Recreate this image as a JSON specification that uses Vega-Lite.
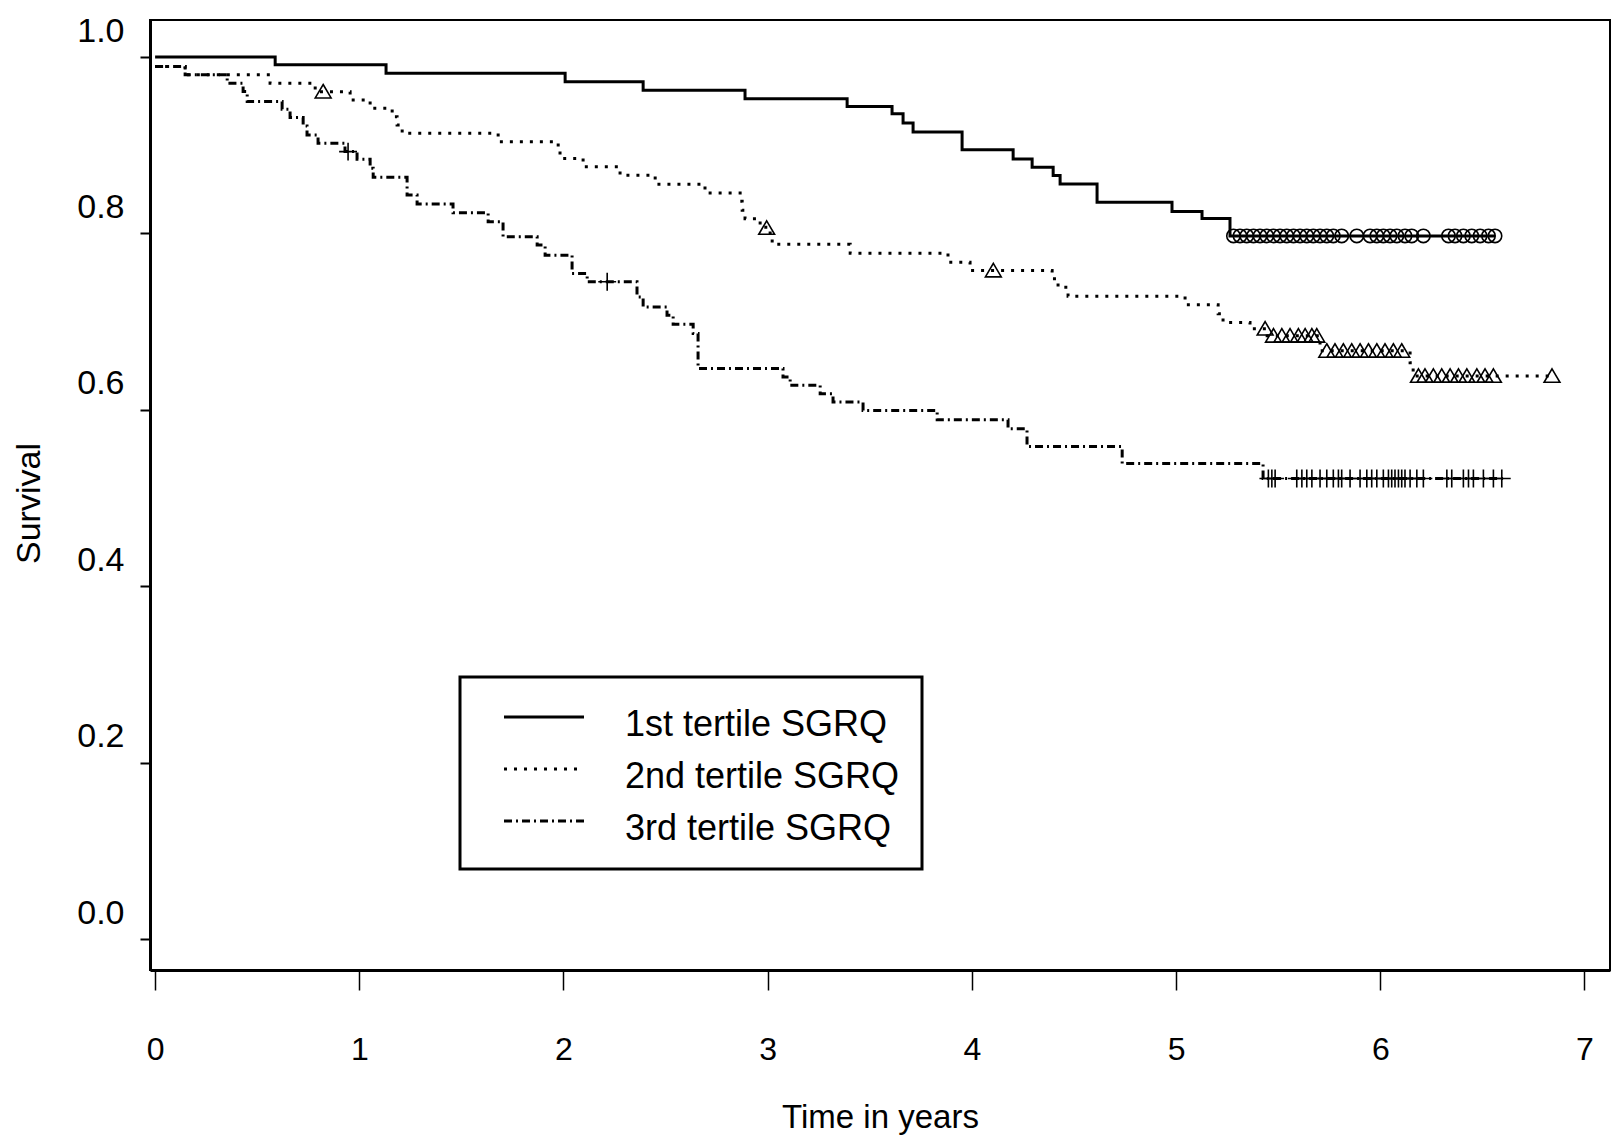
{
  "$schema": "https://vega.github.io/schema/vega-lite/v6.json",
  "width": 1460,
  "height": 950,
  "autosize": {"type": "none"},
  "padding": {"left": 150, "top": 20, "right": 8, "bottom": 170},
  "background": "white",
  "config": {
    "view": {"stroke": "black", "strokeWidth": 2},
    "font": "Liberation Sans"
  },
  "datasets": {
    "curves": [
      {"series": "1st tertile  SGRQ", "time": 0, "survival": 1.0},
      {"series": "1st tertile  SGRQ", "time": 0.588, "survival": 0.9912},
      {"series": "1st tertile  SGRQ", "time": 1.131, "survival": 0.9817},
      {"series": "1st tertile  SGRQ", "time": 2.008, "survival": 0.9719},
      {"series": "1st tertile  SGRQ", "time": 2.39, "survival": 0.9624},
      {"series": "1st tertile  SGRQ", "time": 2.889, "survival": 0.9527},
      {"series": "1st tertile  SGRQ", "time": 3.389, "survival": 0.944},
      {"series": "1st tertile  SGRQ", "time": 3.609, "survival": 0.9358},
      {"series": "1st tertile  SGRQ", "time": 3.663, "survival": 0.9252},
      {"series": "1st tertile  SGRQ", "time": 3.712, "survival": 0.9149},
      {"series": "1st tertile  SGRQ", "time": 3.952, "survival": 0.8949},
      {"series": "1st tertile  SGRQ", "time": 4.202, "survival": 0.8845},
      {"series": "1st tertile  SGRQ", "time": 4.295, "survival": 0.8751},
      {"series": "1st tertile  SGRQ", "time": 4.398, "survival": 0.8656},
      {"series": "1st tertile  SGRQ", "time": 4.432, "survival": 0.8562},
      {"series": "1st tertile  SGRQ", "time": 4.613, "survival": 0.8353},
      {"series": "1st tertile  SGRQ", "time": 4.98, "survival": 0.825},
      {"series": "1st tertile  SGRQ", "time": 5.127, "survival": 0.8171},
      {"series": "1st tertile  SGRQ", "time": 5.264, "survival": 0.7972},
      {"series": "1st tertile  SGRQ", "time": 6.562, "survival": 0.7972},

      {"series": "2nd tertile SGRQ", "time": 0, "survival": 0.9893},
      {"series": "2nd tertile SGRQ", "time": 0.147, "survival": 0.9799},
      {"series": "2nd tertile SGRQ", "time": 0.563, "survival": 0.9703},
      {"series": "2nd tertile SGRQ", "time": 0.784, "survival": 0.9608},
      {"series": "2nd tertile SGRQ", "time": 0.955, "survival": 0.9514},
      {"series": "2nd tertile SGRQ", "time": 1.053, "survival": 0.9419},
      {"series": "2nd tertile SGRQ", "time": 1.161, "survival": 0.9324},
      {"series": "2nd tertile SGRQ", "time": 1.185, "survival": 0.923},
      {"series": "2nd tertile SGRQ", "time": 1.21, "survival": 0.9135},
      {"series": "2nd tertile SGRQ", "time": 1.68, "survival": 0.904},
      {"series": "2nd tertile SGRQ", "time": 1.974, "survival": 0.8945},
      {"series": "2nd tertile SGRQ", "time": 1.983, "survival": 0.8851},
      {"series": "2nd tertile SGRQ", "time": 2.096, "survival": 0.8756},
      {"series": "2nd tertile SGRQ", "time": 2.277, "survival": 0.8661},
      {"series": "2nd tertile SGRQ", "time": 2.449, "survival": 0.8559},
      {"series": "2nd tertile SGRQ", "time": 2.693, "survival": 0.8459},
      {"series": "2nd tertile SGRQ", "time": 2.865, "survival": 0.8365},
      {"series": "2nd tertile SGRQ", "time": 2.875, "survival": 0.8263},
      {"series": "2nd tertile SGRQ", "time": 2.889, "survival": 0.8168},
      {"series": "2nd tertile SGRQ", "time": 2.963, "survival": 0.807},
      {"series": "2nd tertile SGRQ", "time": 3.012, "survival": 0.7962},
      {"series": "2nd tertile SGRQ", "time": 3.022, "survival": 0.7877},
      {"series": "2nd tertile SGRQ", "time": 3.404, "survival": 0.7777},
      {"series": "2nd tertile SGRQ", "time": 3.883, "survival": 0.7673},
      {"series": "2nd tertile SGRQ", "time": 3.991, "survival": 0.758},
      {"series": "2nd tertile SGRQ", "time": 4.393, "survival": 0.7488},
      {"series": "2nd tertile SGRQ", "time": 4.422, "survival": 0.739},
      {"series": "2nd tertile SGRQ", "time": 4.471, "survival": 0.7288},
      {"series": "2nd tertile SGRQ", "time": 5.044, "survival": 0.7192},
      {"series": "2nd tertile SGRQ", "time": 5.206, "survival": 0.709},
      {"series": "2nd tertile SGRQ", "time": 5.23, "survival": 0.6991},
      {"series": "2nd tertile SGRQ", "time": 5.362, "survival": 0.692},
      {"series": "2nd tertile SGRQ", "time": 5.446, "survival": 0.684},
      {"series": "2nd tertile SGRQ", "time": 5.705, "survival": 0.6669},
      {"series": "2nd tertile SGRQ", "time": 6.146, "survival": 0.6533},
      {"series": "2nd tertile SGRQ", "time": 6.161, "survival": 0.6385},
      {"series": "2nd tertile SGRQ", "time": 6.841, "survival": 0.6385},

      {"series": "3rd tertile SGRQ", "time": 0, "survival": 0.9893},
      {"series": "3rd tertile SGRQ", "time": 0.147, "survival": 0.9799},
      {"series": "3rd tertile SGRQ", "time": 0.353, "survival": 0.9704},
      {"series": "3rd tertile SGRQ", "time": 0.431, "survival": 0.961},
      {"series": "3rd tertile SGRQ", "time": 0.451, "survival": 0.9496},
      {"series": "3rd tertile SGRQ", "time": 0.622, "survival": 0.9409},
      {"series": "3rd tertile SGRQ", "time": 0.661, "survival": 0.9314},
      {"series": "3rd tertile SGRQ", "time": 0.725, "survival": 0.9219},
      {"series": "3rd tertile SGRQ", "time": 0.744, "survival": 0.9117},
      {"series": "3rd tertile SGRQ", "time": 0.798, "survival": 0.9023},
      {"series": "3rd tertile SGRQ", "time": 0.93, "survival": 0.8928},
      {"series": "3rd tertile SGRQ", "time": 0.989, "survival": 0.8842},
      {"series": "3rd tertile SGRQ", "time": 1.053, "survival": 0.8739},
      {"series": "3rd tertile SGRQ", "time": 1.068, "survival": 0.8637},
      {"series": "3rd tertile SGRQ", "time": 1.234, "survival": 0.8436},
      {"series": "3rd tertile SGRQ", "time": 1.283, "survival": 0.8335},
      {"series": "3rd tertile SGRQ", "time": 1.459, "survival": 0.8236},
      {"series": "3rd tertile SGRQ", "time": 1.631, "survival": 0.8133},
      {"series": "3rd tertile SGRQ", "time": 1.704, "survival": 0.7962},
      {"series": "3rd tertile SGRQ", "time": 1.871, "survival": 0.7868},
      {"series": "3rd tertile SGRQ", "time": 1.91, "survival": 0.7754},
      {"series": "3rd tertile SGRQ", "time": 2.042, "survival": 0.7546},
      {"series": "3rd tertile SGRQ", "time": 2.116, "survival": 0.7452},
      {"series": "3rd tertile SGRQ", "time": 2.36, "survival": 0.7281},
      {"series": "3rd tertile SGRQ", "time": 2.39, "survival": 0.7167},
      {"series": "3rd tertile SGRQ", "time": 2.507, "survival": 0.7073},
      {"series": "3rd tertile SGRQ", "time": 2.537, "survival": 0.6971},
      {"series": "3rd tertile SGRQ", "time": 2.635, "survival": 0.6865},
      {"series": "3rd tertile SGRQ", "time": 2.659, "survival": 0.6468},
      {"series": "3rd tertile SGRQ", "time": 3.075, "survival": 0.6372},
      {"series": "3rd tertile SGRQ", "time": 3.11, "survival": 0.6279},
      {"series": "3rd tertile SGRQ", "time": 3.257, "survival": 0.6184},
      {"series": "3rd tertile SGRQ", "time": 3.32, "survival": 0.6088},
      {"series": "3rd tertile SGRQ", "time": 3.467, "survival": 0.5994},
      {"series": "3rd tertile SGRQ", "time": 3.83, "survival": 0.5888},
      {"series": "3rd tertile SGRQ", "time": 4.177, "survival": 0.5785},
      {"series": "3rd tertile SGRQ", "time": 4.27, "survival": 0.5584},
      {"series": "3rd tertile SGRQ", "time": 4.736, "survival": 0.5393},
      {"series": "3rd tertile SGRQ", "time": 5.426, "survival": 0.5222},
      {"series": "3rd tertile SGRQ", "time": 6.611, "survival": 0.5222}
    ],
    "censored": [
      {"tertile": "1st", "time": 5.281, "survival": 0.7972},
      {"tertile": "1st", "time": 5.313, "survival": 0.7972},
      {"tertile": "1st", "time": 5.346, "survival": 0.7972},
      {"tertile": "1st", "time": 5.379, "survival": 0.7972},
      {"tertile": "1st", "time": 5.411, "survival": 0.7972},
      {"tertile": "1st", "time": 5.444, "survival": 0.7972},
      {"tertile": "1st", "time": 5.477, "survival": 0.7972},
      {"tertile": "1st", "time": 5.509, "survival": 0.7972},
      {"tertile": "1st", "time": 5.542, "survival": 0.7972},
      {"tertile": "1st", "time": 5.575, "survival": 0.7972},
      {"tertile": "1st", "time": 5.607, "survival": 0.7972},
      {"tertile": "1st", "time": 5.64, "survival": 0.7972},
      {"tertile": "1st", "time": 5.672, "survival": 0.7972},
      {"tertile": "1st", "time": 5.705, "survival": 0.7972},
      {"tertile": "1st", "time": 5.738, "survival": 0.7972},
      {"tertile": "1st", "time": 5.77, "survival": 0.7972},
      {"tertile": "1st", "time": 5.811, "survival": 0.7972},
      {"tertile": "1st", "time": 5.885, "survival": 0.7972},
      {"tertile": "1st", "time": 5.95, "survival": 0.7972},
      {"tertile": "1st", "time": 5.983, "survival": 0.7972},
      {"tertile": "1st", "time": 6.015, "survival": 0.7972},
      {"tertile": "1st", "time": 6.048, "survival": 0.7972},
      {"tertile": "1st", "time": 6.081, "survival": 0.7972},
      {"tertile": "1st", "time": 6.121, "survival": 0.7972},
      {"tertile": "1st", "time": 6.154, "survival": 0.7972},
      {"tertile": "1st", "time": 6.211, "survival": 0.7972},
      {"tertile": "1st", "time": 6.334, "survival": 0.7972},
      {"tertile": "1st", "time": 6.366, "survival": 0.7972},
      {"tertile": "1st", "time": 6.407, "survival": 0.7972},
      {"tertile": "1st", "time": 6.448, "survival": 0.7972},
      {"tertile": "1st", "time": 6.489, "survival": 0.7972},
      {"tertile": "1st", "time": 6.53, "survival": 0.7972},
      {"tertile": "1st", "time": 6.562, "survival": 0.7972},

      {"tertile": "2nd", "time": 0.823, "survival": 0.9608},
      {"tertile": "2nd", "time": 2.995, "survival": 0.8063},
      {"tertile": "2nd", "time": 4.105, "survival": 0.758},
      {"tertile": "2nd", "time": 5.436, "survival": 0.692},
      {"tertile": "2nd", "time": 5.477, "survival": 0.684},
      {"tertile": "2nd", "time": 5.518, "survival": 0.684},
      {"tertile": "2nd", "time": 5.558, "survival": 0.684},
      {"tertile": "2nd", "time": 5.599, "survival": 0.684},
      {"tertile": "2nd", "time": 5.632, "survival": 0.684},
      {"tertile": "2nd", "time": 5.665, "survival": 0.684},
      {"tertile": "2nd", "time": 5.689, "survival": 0.684},
      {"tertile": "2nd", "time": 5.738, "survival": 0.6669},
      {"tertile": "2nd", "time": 5.778, "survival": 0.6669},
      {"tertile": "2nd", "time": 5.819, "survival": 0.6669},
      {"tertile": "2nd", "time": 5.86, "survival": 0.6669},
      {"tertile": "2nd", "time": 5.901, "survival": 0.6669},
      {"tertile": "2nd", "time": 5.942, "survival": 0.6669},
      {"tertile": "2nd", "time": 5.983, "survival": 0.6669},
      {"tertile": "2nd", "time": 6.023, "survival": 0.6669},
      {"tertile": "2nd", "time": 6.064, "survival": 0.6669},
      {"tertile": "2nd", "time": 6.105, "survival": 0.6669},
      {"tertile": "2nd", "time": 6.187, "survival": 0.6385},
      {"tertile": "2nd", "time": 6.219, "survival": 0.6385},
      {"tertile": "2nd", "time": 6.26, "survival": 0.6385},
      {"tertile": "2nd", "time": 6.301, "survival": 0.6385},
      {"tertile": "2nd", "time": 6.342, "survival": 0.6385},
      {"tertile": "2nd", "time": 6.383, "survival": 0.6385},
      {"tertile": "2nd", "time": 6.424, "survival": 0.6385},
      {"tertile": "2nd", "time": 6.473, "survival": 0.6385},
      {"tertile": "2nd", "time": 6.513, "survival": 0.6385},
      {"tertile": "2nd", "time": 6.554, "survival": 0.6385},
      {"tertile": "2nd", "time": 6.841, "survival": 0.6385},

      {"tertile": "3rd", "time": 0.945, "survival": 0.8928},
      {"tertile": "3rd", "time": 2.214, "survival": 0.7452},
      {"tertile": "3rd", "time": 5.452, "survival": 0.5222},
      {"tertile": "3rd", "time": 5.469, "survival": 0.5222},
      {"tertile": "3rd", "time": 5.485, "survival": 0.5222},
      {"tertile": "3rd", "time": 5.591, "survival": 0.5222},
      {"tertile": "3rd", "time": 5.616, "survival": 0.5222},
      {"tertile": "3rd", "time": 5.64, "survival": 0.5222},
      {"tertile": "3rd", "time": 5.665, "survival": 0.5222},
      {"tertile": "3rd", "time": 5.705, "survival": 0.5222},
      {"tertile": "3rd", "time": 5.738, "survival": 0.5222},
      {"tertile": "3rd", "time": 5.77, "survival": 0.5222},
      {"tertile": "3rd", "time": 5.795, "survival": 0.5222},
      {"tertile": "3rd", "time": 5.811, "survival": 0.5222},
      {"tertile": "3rd", "time": 5.852, "survival": 0.5222},
      {"tertile": "3rd", "time": 5.901, "survival": 0.5222},
      {"tertile": "3rd", "time": 5.934, "survival": 0.5222},
      {"tertile": "3rd", "time": 5.958, "survival": 0.5222},
      {"tertile": "3rd", "time": 5.983, "survival": 0.5222},
      {"tertile": "3rd", "time": 6.015, "survival": 0.5222},
      {"tertile": "3rd", "time": 6.04, "survival": 0.5222},
      {"tertile": "3rd", "time": 6.056, "survival": 0.5222},
      {"tertile": "3rd", "time": 6.072, "survival": 0.5222},
      {"tertile": "3rd", "time": 6.089, "survival": 0.5222},
      {"tertile": "3rd", "time": 6.105, "survival": 0.5222},
      {"tertile": "3rd", "time": 6.121, "survival": 0.5222},
      {"tertile": "3rd", "time": 6.146, "survival": 0.5222},
      {"tertile": "3rd", "time": 6.179, "survival": 0.5222},
      {"tertile": "3rd", "time": 6.211, "survival": 0.5222},
      {"tertile": "3rd", "time": 6.326, "survival": 0.5222},
      {"tertile": "3rd", "time": 6.35, "survival": 0.5222},
      {"tertile": "3rd", "time": 6.407, "survival": 0.5222},
      {"tertile": "3rd", "time": 6.432, "survival": 0.5222},
      {"tertile": "3rd", "time": 6.456, "survival": 0.5222},
      {"tertile": "3rd", "time": 6.505, "survival": 0.5222},
      {"tertile": "3rd", "time": 6.554, "survival": 0.5222},
      {"tertile": "3rd", "time": 6.595, "survival": 0.5222}
    ]
  },
  "layer": [
    {
      "data": {"name": "curves"},
      "mark": {"type": "line", "interpolate": "step-after", "color": "black", "strokeWidth": 3, "clip": true},
      "encoding": {
        "x": {
          "field": "time", "type": "quantitative", "title": "Time in years",
          "scale": {"domain": [-0.025, 7.125], "nice": false, "zero": false},
          "axis": {
            "values": [0, 1, 2, 3, 4, 5, 6, 7], "format": "d", "grid": false,
            "tickSize": 20, "tickWidth": 1.5, "tickColor": "black",
            "domainColor": "black", "domainWidth": 3,
            "labelFont": "Liberation Sans", "labelFontSize": 32, "labelColor": "black",
            "labelPadding": 44, "labelFlush": false,
            "titleFont": "Liberation Sans", "titleFontSize": 33, "titleFontWeight": "normal",
            "titleColor": "black", "titlePadding": 36
          }
        },
        "y": {
          "field": "survival", "type": "quantitative", "title": "Survival",
          "scale": {"domain": [-0.035, 1.042], "nice": false, "zero": false},
          "axis": {
            "values": [0, 0.2, 0.4, 0.6, 0.8, 1.0], "format": ".1f", "grid": false,
            "tickSize": 10, "tickWidth": 2, "tickColor": "black",
            "domainColor": "black", "domainWidth": 3,
            "labelFont": "Liberation Sans", "labelFontSize": 34, "labelColor": "black",
            "labelPadding": 16, "labelOffset": -26, "labelFlush": false,
            "titleFont": "Liberation Sans", "titleFontSize": 34, "titleFontWeight": "normal",
            "titleColor": "black", "titlePadding": 30, "titleY": 483
          }
        },
        "strokeDash": {
          "field": "series", "type": "nominal",
          "scale": {
            "domain": ["1st tertile  SGRQ", "2nd tertile SGRQ", "3rd tertile SGRQ"],
            "range": [[1, 0], [3, 7], [8, 4, 2, 4]]
          },
          "legend": {
            "title": null, "orient": "none", "legendX": 310, "legendY": 657,
            "direction": "vertical",
            "strokeColor": "black", "fillColor": "white",
            "padding": 22,
            "labelFont": "Liberation Sans", "labelFontSize": 36, "labelColor": "black",
            "labelOffset": 107, "labelLimit": 400, "rowPadding": 8,
            "symbolType": "M0.4,0H8.4", "symbolSize": 400, "symbolStrokeWidth": 3,
            "symbolStrokeColor": "black",
            "encode": {
              "legend": {"update": {"strokeWidth": {"value": 3}}},
              "labels": {"update": {"dy": {"value": 8}}}
            }
          }
        }
      }
    },
    {
      "data": {"name": "censored"},
      "mark": {"type": "point", "filled": false, "color": "black", "strokeWidth": 1.6, "opacity": 1},
      "encoding": {
        "x": {"field": "time", "type": "quantitative"},
        "y": {"field": "survival", "type": "quantitative"},
        "shape": {
          "field": "tertile", "type": "nominal", "legend": null,
          "scale": {
            "domain": ["1st", "2nd", "3rd"],
            "range": ["circle", "M0,-0.9L1,0.8L-1,0.8Z", "M-1,0H1M0,-1V1"]
          }
        },
        "size": {
          "field": "tertile", "type": "nominal", "legend": null,
          "scale": {
            "domain": ["1st", "2nd", "3rd"],
            "range": [180, 320, 230]
          }
        }
      }
    }
  ]
}
